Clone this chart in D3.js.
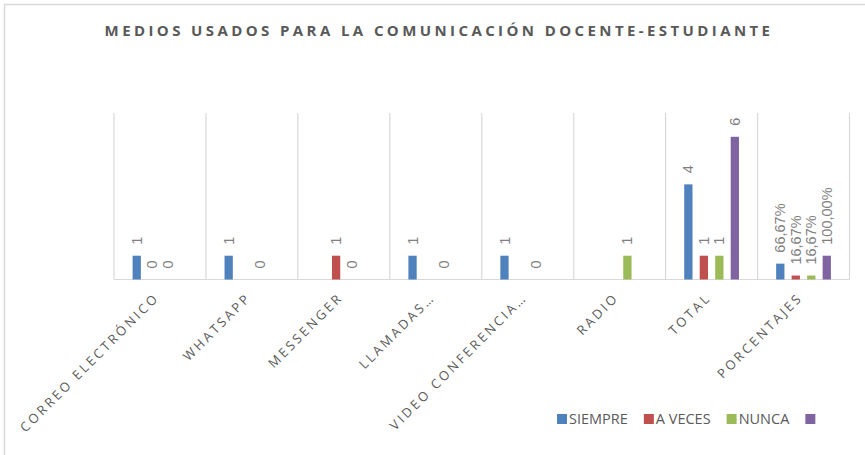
<!DOCTYPE html>
<html>
<head>
<meta charset="utf-8">
<script src="https://cdn.jsdelivr.net/npm/d3@7"></script>
<style>
  body { margin: 0; background: #fff; }
  svg { display: block; }
</style>
</head>
<body>
<svg id="chart" width="865" height="455"></svg>
<script>
// Data
const categories = ["CORREO ELECTRÓNICO", "WHATSAPP", "MESSENGER", "LLAMADAS…",
  "VIDEO CONFERENCIA…", "RADIO", "TOTAL", "PORCENTAJES"];
const seriesNames = ["SIEMPRE", "A VECES", "NUNCA", ""];
const siempre = [1, 1, null, 1, 1, null, 4, 0.6667];
const aVeces  = [0, null, 1, null, null, null, 1, 0.1667];
const nunca   = [0, 0, 0, 0, 0, 1, 1, 0.1667];
const totales = [null, null, null, null, null, null, 6, 1];
const colors = ["#4f81bd", "#c0504d", "#9bbb59", "#8064a2"];
const title = "MEDIOS USADOS PARA LA COMUNICACIÓN DOCENTE-ESTUDIANTE";

const seriesValues = [siempre, aVeces, nunca, totales];

const svg = d3.select("#chart");
const width = 865;
const height = 455;
const margin = { top: 113, right: 15.5, bottom: 175.5, left: 114 };

// Chart border (runs off the right/bottom edge like the screenshot)
svg.append("rect")
  .attr("x", 4.5).attr("y", 4.5)
  .attr("width", width).attr("height", height)
  .attr("fill", "none")
  .attr("stroke", "#d9d9d9")
  .attr("stroke-width", 1.5);

// Title
svg.append("text")
  .attr("x", 439)
  .attr("y", 36)
  .attr("text-anchor", "middle")
  .attr("font-family", "Open Sans")
  .attr("font-weight", "bold")
  .attr("font-size", 15)
  .attr("letter-spacing", 3.4)
  .attr("fill", "#595959")
  .text(title);

// Scales
const x0 = d3.scaleBand()
  .domain(categories)
  .range([margin.left, width - margin.right]);

const x1 = d3.scaleBand()
  .domain(seriesNames.map((d, i) => i))
  .range([0, x0.bandwidth()])
  .paddingInner(0.465)
  .paddingOuter(1.2);

const y = d3.scaleLinear()
  .domain([0, 7])
  .range([height - margin.bottom, margin.top]);

// Vertical gridlines at category edges
const edges = categories.map((c) => x0(c)).concat([x0(categories[categories.length - 1]) + x0.bandwidth()]);
svg.append("g")
  .selectAll("line")
  .data(edges)
  .enter()
  .append("line")
  .attr("x1", (d) => d).attr("x2", (d) => d)
  .attr("y1", y(7)).attr("y2", y(0))
  .attr("stroke", "#d9d9d9")
  .attr("stroke-width", 1.2);

// Baseline
svg.append("line")
  .attr("x1", x0.range()[0]).attr("x2", x0.range()[1])
  .attr("y1", y(0)).attr("y2", y(0))
  .attr("stroke", "#d9d9d9")
  .attr("stroke-width", 1.2);

// Flatten data
const pct = d3.formatLocale({ decimal: ",", thousands: ".", grouping: [3], currency: ["", ""] }).format(".2%");
const points = [];
seriesValues.forEach((vals, s) => {
  vals.forEach((v, i) => {
    if (v === null) return;
    points.push({ cat: categories[i], s: s, v: v, isPct: categories[i] === "PORCENTAJES" });
  });
});

// Bars
svg.append("g")
  .selectAll("rect")
  .data(points)
  .enter()
  .append("rect")
  .attr("x", (d) => x0(d.cat) + x1(d.s))
  .attr("y", (d) => y(d.v))
  .attr("width", x1.bandwidth())
  .attr("height", (d) => y(0) - y(d.v))
  .attr("fill", (d) => colors[d.s]);

// Data labels (rotated)
svg.append("g")
  .selectAll("text")
  .data(points)
  .enter()
  .append("text")
  .attr("transform", (d) => {
    const cx = x0(d.cat) + x1(d.s) + x1.bandwidth() / 2;
    return `translate(${cx},${y(d.v) - 11}) rotate(-90)`;
  })
  .attr("dy", "0.35em")
  .attr("text-anchor", "start")
  .attr("font-family", "Liberation Sans")
  .attr("font-size", 14.5)
  .attr("fill", "#7f7f7f")
  .text((d) => d.isPct ? pct(d.v) : d.v);

// Category labels
svg.append("g")
  .selectAll("text")
  .data(categories)
  .enter()
  .append("text")
  .attr("transform", (d) => `translate(${x0(d) + x0.bandwidth() / 2},${y(0) + 19}) rotate(-45)`)
  .attr("text-anchor", "end")
  .attr("font-family", "Open Sans")
  .attr("font-size", 13)
  .attr("letter-spacing", 2.7)
  .attr("fill", "#595959")
  .text((d) => d);

// Legend
const legend = svg.append("g").attr("transform", "translate(557,414)");
let lx = 0;
seriesNames.forEach((name, i) => {
  const g = legend.append("g").attr("transform", `translate(${lx},0)`);
  g.append("rect")
    .attr("width", 10).attr("height", 10)
    .attr("fill", colors[i]);
  const t = g.append("text")
    .attr("x", 12)
    .attr("y", 10)
    .attr("font-family", "Open Sans")
    .attr("font-size", 14.5)
    .attr("fill", "#595959")
    .text(name);
  lx += 12 + t.node().getComputedTextLength() + 16;
});
</script>
</body>
</html>
